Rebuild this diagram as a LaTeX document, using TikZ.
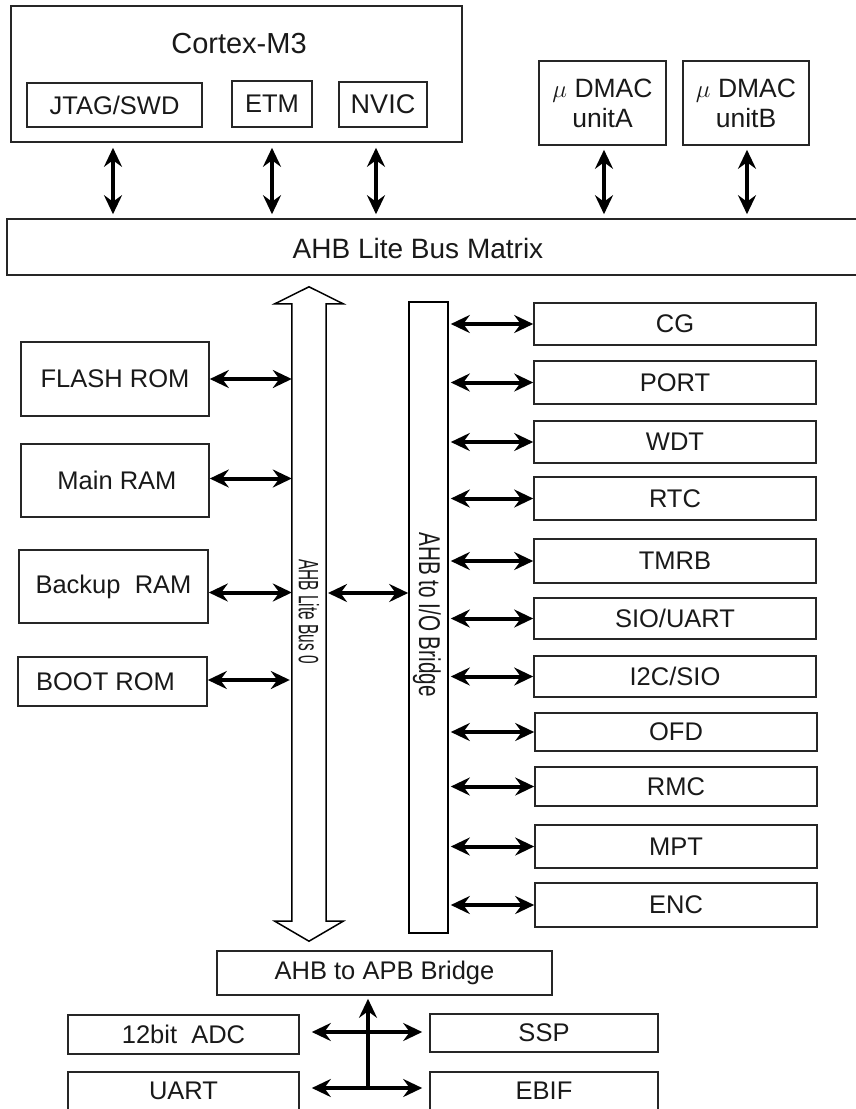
\documentclass[tikz,border=0pt]{standalone}
\usepackage{fontspec}
\setmainfont{Liberation Sans}
\usetikzlibrary{arrows.meta,calc}
\newcommand\fsz{\fontsize{25.5}{30}\selectfont}
\begin{document}
\begin{tikzpicture}[x=1pt,y=-1pt,
  box/.style={draw=black!85, line width=1.6pt, inner sep=0pt, align=center, font=\fsz, text=black!90},
  lbl/.style={inner sep=0pt, font=\fsz, text=black!90},
  biarrow/.style={line width=4pt, {Stealth[length=19pt,width=18pt,inset=6.5pt]}-{Stealth[length=19pt,width=18pt,inset=6.5pt]}},
  uparrow/.style={line width=4pt, -{Stealth[length=19pt,width=18pt,inset=6.5pt]}},
  hollow/.style={draw=black, line width=1.5pt, fill=white, line join=miter}]
\useasboundingbox (0,0) rectangle (856,1109);
\clip (0,0) rectangle (856,1109);

% ---- top: Cortex-M3 and DMACs
\node[box, minimum width=451pt, minimum height=136pt] (cortex) at (236.5,74) {};
\node[lbl, font=\fontsize{29}{32}\selectfont] (cortexlbl) at (239,44) {Cortex-M3};
\node[box, minimum width=175pt, minimum height=44pt] (jtag) at (114.5,105) {JTAG/SWD};
\node[box, minimum width=80pt, minimum height=46pt] (etm) at (272,104) {ETM};
\node[box, minimum width=88pt, minimum height=45pt, font=\fontsize{27}{30}\selectfont] (nvic) at (383,104.5) {NVIC};
\node[box, minimum width=127pt, minimum height=84pt, font=\fontsize{26.5}{30}\selectfont] (dmaca) at (602.5,103) {$\mu$ DMAC\\unitA};
\node[box, minimum width=126pt, minimum height=84pt, font=\fontsize{26.5}{30}\selectfont] (dmacb) at (746,103) {$\mu$ DMAC\\unitB};

% ---- bus matrix
\node[box, minimum width=873pt, minimum height=56pt] (busmatrix) at (443.5,247) {};
\node[lbl, font=\fontsize{28}{30}\selectfont] (busmatrixlbl) at (418,248) {AHB Lite Bus Matrix};

\draw[biarrow, shorten <=5pt, shorten >=4pt] ([xshift=-1.5pt]jtag.south |- cortex.south) -- ([xshift=-1.5pt]jtag.south |- busmatrix.north);
\draw[biarrow, shorten <=5pt, shorten >=4pt] (etm.south |- cortex.south) -- (etm.south |- busmatrix.north);
\draw[biarrow, shorten <=5pt, shorten >=4pt] ([xshift=-7pt]nvic.south |- cortex.south) -- ([xshift=-7pt]nvic.south |- busmatrix.north);
\draw[biarrow, shorten <=4pt, shorten >=4pt] ([xshift=1.5pt]dmaca.south) -- ([xshift=1.5pt]dmaca.south |- busmatrix.north);
\draw[biarrow, shorten <=4pt, shorten >=4pt] ([xshift=1pt]dmacb.south) -- ([xshift=1pt]dmacb.south |- busmatrix.north);

% ---- AHB Lite Bus 0 (hollow double arrow)
\node[minimum width=34pt, minimum height=617pt, inner sep=0pt] (bus0) at (309,612.5) {};
\draw[hollow] (bus0.north west) -- ++(-17,0) -- ($(bus0.north)+(0,-17)$) -- ($(bus0.north east)+(17,0)$)
  -- (bus0.north east) -- (bus0.south east) -- ++(17,0) -- ($(bus0.south)+(0,20)$)
  -- ($(bus0.south west)+(-17,0)$) -- (bus0.south west) -- cycle;
\node[rotate=-90, inner sep=0pt, text depth=0pt, text=black!90, font=\fontsize{28}{30}\selectfont] (bus0lbl) at (309,611.5) {\scalebox{0.55}[1]{AHB Lite Bus 0}};

% ---- AHB to I/O bridge
\node[draw=black, line width=1.6pt, minimum width=39pt, minimum height=631pt, inner sep=0pt] (bridge) at (428.5,617.5) {};
\node[rotate=-90, inner sep=0pt, text depth=0pt, text=black!90, font=\fontsize{30}{32}\selectfont] (bridgelbl) at (430,614.5) {\scalebox{0.69}[1]{AHB to I/O Bridge}};

% ---- memories
\node[box, minimum width=188pt, minimum height=74pt] (flash) at (115,379) {FLASH ROM};
\node[box, minimum width=188pt, minimum height=73pt] (mainram) at (115,480.5) {\hspace*{4pt}Main RAM};
\node[box, minimum width=189pt, minimum height=73pt] (backup) at (113.5,586.5) {Backup~~RAM};
\node[box, minimum width=189pt, minimum height=49pt] (boot) at (112.5,681.5) {BOOT ROM\hspace*{14pt}};

\draw[biarrow] (flash.east) -- (flash.east -| bus0.west);
\draw[biarrow] ([yshift=2pt]mainram.east) -- ([yshift=2pt]mainram.east -| bus0.west);
\draw[biarrow] ([yshift=-6pt]backup.east) -- ([yshift=-6pt]backup.east -| bus0.west);
\draw[biarrow, shorten >=2pt] ([yshift=1.5pt]boot.east) -- ([yshift=1.5pt]boot.east -| bus0.west);
\coordinate (busmid) at (326,593);
\draw[biarrow, shorten <=2pt] (busmid) -- (busmid -| bridge.west);

% ---- peripherals
\node[box, minimum width=282pt, minimum height=42pt] (cg) at (675,324) {CG};
\node[box, minimum width=282pt, minimum height=43pt] (port) at (675,382.5) {PORT};
\node[box, minimum width=282pt, minimum height=42pt] (wdt) at (675,442) {WDT};
\node[box, minimum width=282pt, minimum height=43pt] (rtc) at (675,498.5) {RTC};
\node[box, minimum width=282pt, minimum height=44pt] (tmrb) at (675,561) {TMRB};
\node[box, minimum width=282pt, minimum height=41pt] (siouart) at (675,618.5) {SIO/UART};
\node[box, minimum width=282pt, minimum height=41pt] (i2csio) at (675,676.5) {I2C/SIO};
\node[box, minimum width=282pt, minimum height=38pt] (ofd) at (676,732) {OFD};
\node[box, minimum width=282pt, minimum height=39pt] (rmc) at (676,786.5) {RMC};
\node[box, minimum width=282pt, minimum height=43pt] (mpt) at (676,846.5) {MPT};
\node[box, minimum width=282pt, minimum height=44pt] (enc) at (676,905) {ENC};

\foreach \n in {cg,port,wdt,rtc,tmrb,siouart,i2csio,ofd,rmc,mpt,enc}
  \draw[biarrow, shorten <=2pt] (bridge.east |- \n.west) -- (\n.west);

% ---- APB side
\node[box, minimum width=335pt, minimum height=44pt] (apb) at (384.5,973) {AHB to APB Bridge};
\node[box, minimum width=231pt, minimum height=39pt] (adc) at (183.5,1034.5) {12bit~~ADC};
\node[box, minimum width=231pt, minimum height=40pt] (uart) at (183.5,1092) {\raisebox{2pt}{UART}};
\node[box, minimum width=228pt, minimum height=38pt] (ssp) at (544,1033) {SSP};
\node[box, minimum width=228pt, minimum height=40pt] (ebif) at (544,1092) {\raisebox{2pt}{EBIF}};

\coordinate (junc) at (368,1088);
\draw[uparrow, shorten >=3pt] (junc) -- (junc |- apb.south);
\draw[biarrow, shorten <=12pt, shorten >=7pt] ([yshift=1pt]adc.east |- ssp.west) -- ([yshift=1pt]ssp.west);
\draw[biarrow, shorten <=12pt, shorten >=7pt] (uart.east |- junc) -- (ebif.west |- junc);
\end{tikzpicture}
\end{document}
